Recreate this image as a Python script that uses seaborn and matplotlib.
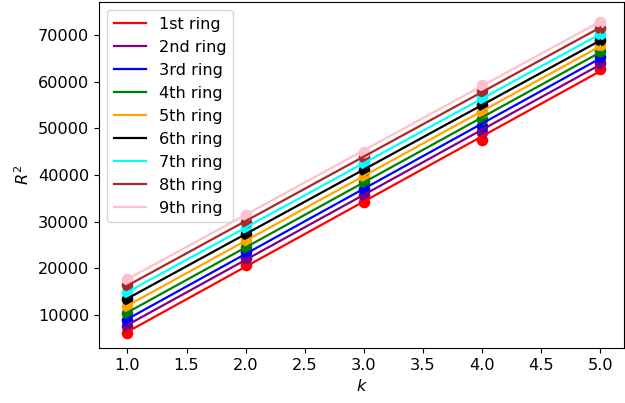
import numpy as np
import pandas as pd
import matplotlib
matplotlib.use("Agg")
import matplotlib.pyplot as plt
import seaborn as sns

k = [1, 2, 3, 4, 5]
ring_labels = ["1st ring", "2nd ring", "3rd ring", "4th ring", "5th ring",
               "6th ring", "7th ring", "8th ring", "9th ring"]
colors = ["red", "purple", "blue", "green", "orange", "black", "cyan", "brown", "pink"]

r1 = [6200, 20800, 34300, 47600, 62700]
r2 = [7700, 22200, 35700, 49200, 64000]
r3 = [9000, 23400, 37000, 50600, 65300]
r4 = [10500, 24600, 38400, 52100, 66500]
r5 = [12000, 26000, 39700, 53500, 67800]
r6 = [13500, 27400, 41100, 55000, 68900]
r7 = [14900, 28700, 42500, 56500, 70200]
r8 = [16400, 30000, 43800, 58000, 71600]
r9 = [17800, 31400, 45000, 59400, 72900]
rings = [r1, r2, r3, r4, r5, r6, r7, r8, r9]

fs = 11.6
plt.rcParams["font.size"] = fs

fig = plt.figure(figsize=(6.25, 4.03), dpi=100)
ax = fig.add_axes([99 / 625, 55 / 403, 525 / 625, 346 / 403])

for vals, lab, c in zip(rings, ring_labels, colors):
    df = pd.DataFrame({"k": k, "R2": vals})
    slope, icpt = np.polyfit(df["k"], df["R2"], 1)
    df["fit"] = slope * df["k"] + icpt
    sns.scatterplot(data=df, x="k", y="R2", color=c, s=70, linewidth=0, ax=ax, zorder=2)
    sns.lineplot(data=df, x="k", y="fit", color=c, label=lab, ax=ax, linewidth=1.6, zorder=3)

ax.set_xlim(0.76, 5.2)
ax.set_ylim(2900, 77100)
ax.tick_params(labelsize=fs)
ax.set_xlabel("$k$", fontsize=fs)
ax.set_ylabel("$R^2$", fontsize=fs)
ax.legend(loc="upper left", fontsize=fs)
fig.savefig("out.png", dpi=100)
